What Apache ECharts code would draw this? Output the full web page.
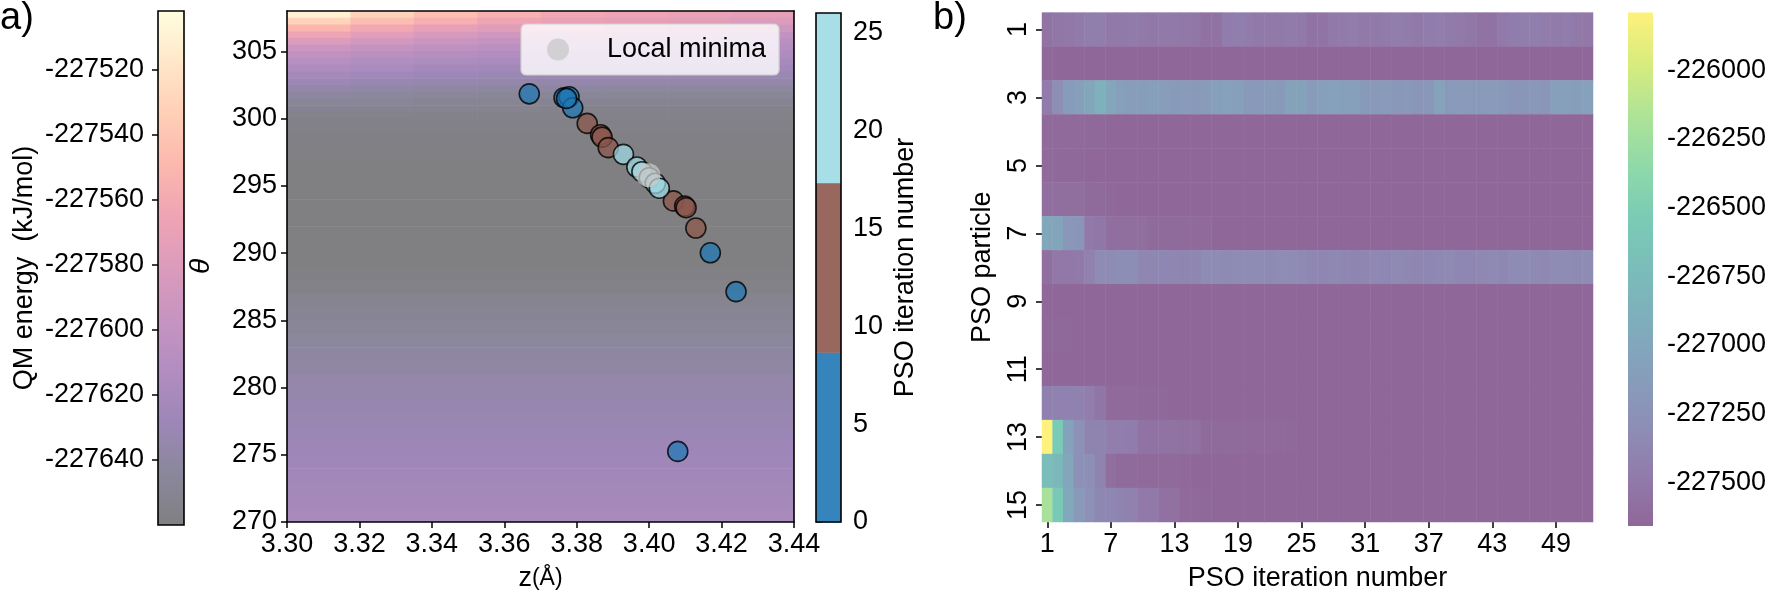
<!DOCTYPE html>
<html><head><meta charset="utf-8">
<script src="https://cdn.jsdelivr.net/npm/echarts@6/dist/echarts.min.js"></script>
<style>html,body{margin:0;padding:0;background:#fff}#c{width:1770px;height:597px}</style>
</head><body><div id="c"></div>
<script>
// ================= DATA =================
// Panel a: PSO particle best positions (z in Å, theta in degrees, iteration number)
const psoZ     = [3.4079, 3.4240, 3.4169, 3.3669, 3.3765, 3.3779, 3.3789, 3.3772,
                  3.3829, 3.3866, 3.3870, 3.3887, 3.4067, 3.4098, 3.4102, 3.4129,
                  3.3929, 3.3966, 3.3980, 3.4000, 3.4017, 3.4028];
const psoTheta = [275.25, 287.13, 290.02, 301.84, 301.55, 301.62, 300.80, 301.50,
                  299.64, 298.80, 298.62, 297.84, 293.88, 293.49, 293.37, 291.86,
                  297.34, 296.40, 296.05, 295.60, 295.19, 294.82];
const psoIter  = [0, 1, 2, 3, 4, 5, 6, 7,
                  9, 10, 11, 12, 13, 14, 15, 16,
                  18, 19, 20, 21, 22, 23];
const localMinZ = [3.3998];
const localMinTheta = [295.79];

// Panel a background: QM energy surface (kJ/mol); row edges in theta, each row split evenly in z
const bgRowEdges = [308,307.5,307,306.5,306,305.5,305,304.5,304,303.5,303,302.5,302,301.5,301,300.5,300,
  299,298,297,296,295,294,293,292,291,290,289,288,287,286,285,284,283,282,281,280,279,278,277,276,275,274,273,272,271,270];
const bgRowEnergy = [
  [-227510,-227530,-227545,-227555,-227562,-227566,-227569,-227572],
  [-227530,-227545,-227556,-227565,-227570,-227573,-227576,-227580],
  [-227550,-227562,-227572,-227578,-227582,-227585,-227588,-227591],
  [-227565,-227575,-227584,-227589,-227592,-227594,-227597,-227600],
  [-227580,-227587,-227594,-227598,-227601,-227603,-227605,-227606],
  [-227593,-227598,-227603,-227606,-227607,-227609,-227610,-227610],
  [-227601,-227606,-227610,-227613,-227614,-227614,-227616,-227616],
  [-227609,-227613,-227616,-227619,-227619,-227620,-227620,-227620],
  [-227615,-227619,-227622,-227624,-227624,-227625,-227625,-227625],
  [-227622,-227625,-227628,-227630,-227630,-227631,-227631,-227631],
  [-227629,-227632,-227634,-227635,-227635,-227636,-227636,-227636],
  [-227636,-227638,-227639,-227641,-227641,-227642,-227642,-227642],
  [-227641,-227643,-227644,-227646,-227646,-227647,-227647,-227647],
  [-227646,-227647,-227649,-227649,-227650,-227650,-227650,-227650],
  [-227650,-227650,-227652,-227652,-227654,-227654,-227654,-227654],
  [-227654,-227654,-227655,-227655,-227655,-227655,-227655,-227655],
  [-227657],[-227658],[-227659],[-227660],[-227660],[-227660],[-227660],[-227660],[-227660],[-227660],
  [-227660],[-227659],[-227656],[-227652],[-227649],[-227646],[-227643],[-227641],[-227639],[-227636],
  [-227635],[-227633],[-227632],[-227630],[-227628],[-227627],[-227625],[-227624],[-227622],[-227620]
];
const thetaTickValues = [270, 275, 280, 285, 290, 295, 300, 305];
const qmTickValues = [-227640, -227620, -227600, -227580, -227560, -227540, -227520];
const iterTickValues = [0, 5, 10, 15, 20, 25];
const iterBinEdges = [0, 8.667, 17.333, 26];

// Panel b: QM energy per PSO particle (rows) and iteration (columns)
const iterationCats = [1,2,3,4,5,6,7,8,9,10,11,12,13,14,15,16,17,18,19,20,21,22,23,24,25,26,
  27,28,29,30,31,32,33,34,35,36,37,38,39,40,41,42,43,44,45,46,47,48,49,50,51,52];
const particleCats = [1,2,3,4,5,6,7,8,9,10,11,12,13,14,15];
const heatTickValues = [-227500, -227250, -227000, -226750, -226500, -226250, -226000];

const p01 = [-227560,-227520,-227510,-227480,-227440,-227450,-227490,-227500,-227480,-227500,-227510,-227490,-227500,
  -227510,-227520,-227570,-227560,-227460,-227440,-227470,-227500,-227490,-227500,-227480,-227490,-227550,
  -227540,-227490,-227480,-227470,-227490,-227500,-227480,-227450,-227470,-227490,-227460,-227450,-227480,
  -227500,-227520,-227560,-227550,-227490,-227460,-227450,-227440,-227470,-227480,-227460,-227500,-227510];
const p02 = [-227645,-227648,-227650,-227652,-227650,-227648,-227650,-227652,-227654,-227650,-227648,-227656,-227655,
  -227652,-227650,-227648,-227650,-227652,-227654,-227650,-227652,-227650,-227648,-227650,-227652,-227654,
  -227650,-227652,-227650,-227648,-227650,-227652,-227654,-227652,-227650,-227648,-227650,-227652,-227650,
  -227654,-227652,-227650,-227648,-227650,-227652,-227654,-227650,-227652,-227650,-227648,-227650,-227652];
const p03 = [-227480,-227300,-227130,-227100,-227000,-226880,-227000,-227100,-227120,-227110,-227090,-227120,-227160,
  -227150,-227170,-227150,-227090,-227080,-227100,-227160,-227170,-227150,-227160,-227060,-227050,-227140,
  -227090,-227080,-227100,-227090,-227160,-227170,-227150,-227180,-227170,-227200,-227190,-227050,-227160,
  -227150,-227170,-227160,-227150,-227170,-227200,-227210,-227190,-227200,-227100,-227090,-227110,-227080];
const p04 = [-227630,-227632,-227634,-227636,-227640,-227642,-227652,-227654,-227655,-227655,-227655,-227655,-227655,
  -227655,-227655,-227655,-227655,-227655,-227655,-227655,-227655,-227655,-227655,-227655,-227655,-227655,
  -227655,-227655,-227655,-227655,-227655,-227655,-227655,-227655,-227655,-227655,-227655,-227655,-227655,
  -227655,-227655,-227655,-227655,-227655,-227655,-227655,-227655,-227655,-227655,-227655,-227655,-227655];
const p05 = [-227636,-227638,-227640,-227642,-227648,-227650,-227655,-227655,-227655,-227655,-227655,-227655,-227655,
  -227655,-227655,-227655,-227655,-227655,-227655,-227655,-227655,-227655,-227655,-227655,-227655,-227655,
  -227655,-227655,-227655,-227655,-227655,-227655,-227655,-227655,-227655,-227655,-227655,-227655,-227655,
  -227655,-227655,-227655,-227655,-227655,-227655,-227655,-227655,-227655,-227655,-227655,-227655,-227655];
const p06 = [-227585,-227585,-227590,-227590,-227620,-227620,-227645,-227650,-227652,-227655,-227655,-227655,-227655,
  -227655,-227655,-227655,-227655,-227655,-227655,-227655,-227655,-227655,-227655,-227655,-227655,-227655,
  -227655,-227655,-227655,-227655,-227655,-227655,-227655,-227655,-227655,-227655,-227655,-227655,-227655,
  -227655,-227655,-227655,-227655,-227655,-227655,-227655,-227655,-227655,-227655,-227655,-227655,-227655];
const p07 = [-227000,-227020,-227180,-227200,-227500,-227520,-227585,-227585,-227590,-227590,-227620,-227620,-227625,
  -227625,-227630,-227630,-227650,-227652,-227654,-227655,-227655,-227655,-227655,-227655,-227655,-227655,
  -227655,-227655,-227655,-227655,-227655,-227655,-227655,-227655,-227655,-227655,-227655,-227655,-227655,
  -227655,-227655,-227655,-227655,-227655,-227655,-227655,-227655,-227655,-227655,-227655,-227655,-227655];
const p08 = [-227585,-227510,-227510,-227500,-227420,-227320,-227330,-227300,-227300,-227370,-227370,-227360,-227370,
  -227380,-227370,-227330,-227320,-227340,-227330,-227320,-227330,-227340,-227320,-227330,-227340,-227360,
  -227370,-227350,-227360,-227380,-227370,-227350,-227360,-227340,-227350,-227370,-227360,-227350,-227340,
  -227360,-227370,-227350,-227340,-227360,-227330,-227320,-227340,-227350,-227330,-227320,-227340,-227330];
const p09 = [-227650,-227652,-227654,-227655,-227655,-227655,-227655,-227655,-227655,-227655,-227655,-227655,-227655,
  -227655,-227655,-227655,-227655,-227655,-227655,-227655,-227655,-227655,-227655,-227655,-227655,-227655,
  -227655,-227655,-227655,-227655,-227655,-227655,-227655,-227655,-227655,-227655,-227655,-227655,-227655,
  -227655,-227655,-227655,-227655,-227655,-227655,-227655,-227655,-227655,-227655,-227655,-227655,-227655];
const p10 = [-227645,-227645,-227646,-227648,-227650,-227655,-227655,-227655,-227655,-227655,-227655,-227655,-227655,
  -227655,-227655,-227655,-227655,-227655,-227655,-227655,-227655,-227655,-227655,-227655,-227655,-227655,
  -227655,-227655,-227655,-227655,-227655,-227655,-227655,-227655,-227655,-227655,-227655,-227655,-227655,
  -227655,-227655,-227655,-227655,-227655,-227655,-227655,-227655,-227655,-227655,-227655,-227655,-227655];
const p11 = [-227652,-227654,-227655,-227655,-227655,-227655,-227655,-227655,-227655,-227655,-227655,-227655,-227655,
  -227655,-227655,-227655,-227655,-227655,-227655,-227655,-227655,-227655,-227655,-227655,-227655,-227655,
  -227655,-227655,-227655,-227655,-227655,-227655,-227655,-227655,-227655,-227655,-227655,-227655,-227655,
  -227655,-227655,-227655,-227655,-227655,-227655,-227655,-227655,-227655,-227655,-227655,-227655,-227655];
const p12 = [-227430,-227410,-227410,-227410,-227450,-227530,-227630,-227630,-227635,-227640,-227640,-227645,-227655,
  -227655,-227655,-227655,-227655,-227655,-227655,-227655,-227655,-227655,-227655,-227655,-227655,-227655,
  -227655,-227655,-227655,-227655,-227655,-227655,-227655,-227655,-227655,-227655,-227655,-227655,-227655,
  -227655,-227655,-227655,-227655,-227655,-227655,-227655,-227655,-227655,-227655,-227655,-227655,-227655];
const p13 = [-225790,-226540,-227060,-227280,-227400,-227400,-227450,-227450,-227460,-227550,-227550,-227560,-227560,
  -227570,-227570,-227620,-227620,-227625,-227625,-227630,-227630,-227635,-227635,-227640,-227655,-227655,
  -227655,-227655,-227655,-227655,-227655,-227655,-227655,-227655,-227655,-227655,-227655,-227655,-227655,
  -227655,-227655,-227655,-227655,-227655,-227655,-227655,-227655,-227655,-227655,-227655,-227655,-227655];
const p14 = [-226720,-226800,-227000,-227280,-227290,-227400,-227590,-227625,-227625,-227630,-227630,-227635,-227635,
  -227640,-227655,-227655,-227655,-227655,-227655,-227655,-227655,-227655,-227655,-227655,-227655,-227655,
  -227655,-227655,-227655,-227655,-227655,-227655,-227655,-227655,-227655,-227655,-227655,-227655,-227655,
  -227655,-227655,-227655,-227655,-227655,-227655,-227655,-227655,-227655,-227655,-227655,-227655,-227655];
const p15 = [-226200,-226570,-226980,-227170,-227280,-227360,-227360,-227400,-227420,-227500,-227500,-227570,-227575,
  -227630,-227635,-227640,-227650,-227655,-227655,-227655,-227655,-227655,-227655,-227655,-227655,-227655,
  -227655,-227655,-227655,-227655,-227655,-227655,-227655,-227655,-227655,-227655,-227655,-227655,-227655,
  -227655,-227655,-227655,-227655,-227655,-227655,-227655,-227655,-227655,-227655,-227655,-227655,-227655];
const particleRows = [p01,p02,p03,p04,p05,p06,p07,p08,p09,p10,p11,p12,p13,p14,p15];

// ================= STYLE =================
const FF = '"Liberation Sans", Arial, Helvetica, sans-serif';
const FS = 27;
// magma (alpha 0.5 over white) and viridis (alpha 0.6 over white)
const magmaA = ['#808082','#8a879b','#9d87b8','#b28dc0','#c694c0','#db9bbc','#efa4b4','#fbb8ae','#ffcfb6','#ffe7c9','#fefedf'];
const viridisA = ['#8f6798','#917cac','#8d8fb7','#869fbb','#7faebb','#7abdba','#7acbb5','#8fd9a9','#afe397','#d7ec7d','#fef17c'];
const iterColors = ['rgba(31,119,180,0.9)','rgba(140,86,75,0.9)','rgba(158,218,229,0.9)'];
const iterColorsSolid = ['#3585bc','#98675d','#a8dee8'];

const qmMin = -227660, qmMax = -227502;
const heatMin = -227660, heatMax = -225790;

// ================= BUILD =================
const bgData = [];
for (let r = 0; r < bgRowEnergy.length; r++) {
  const row = bgRowEnergy[r];
  const n = row.length;
  for (let c = 0; c < n; c++) {
    const z0 = 3.30 + (3.44 - 3.30) * c / n;
    const z1 = 3.30 + (3.44 - 3.30) * (c + 1) / n;
    bgData.push([z0, z1, bgRowEdges[r + 1], bgRowEdges[r], row[c]]);
  }
}
const psoData = psoZ.map((z, i) => [z, psoTheta[i], psoIter[i]]);
const minData = localMinZ.map((z, i) => [z, localMinTheta[i]]);
const heatData = [];
particleRows.forEach((row, r) => row.forEach((v, c) => heatData.push([c, r, v])));
const iterBins = [];
for (let i = 0; i < iterBinEdges.length - 1; i++) iterBins.push([0, 1, iterBinEdges[i], iterBinEdges[i + 1], i]);

function stops(list) { return list.map((c, i) => ({offset: i / (list.length - 1), color: c})); }

function renderCell(params, api) {
  const p0 = api.coord([api.value(0), api.value(3)]);
  const p1 = api.coord([api.value(1), api.value(2)]);
  return {type: 'rect', shape: {x: p0[0], y: p0[1], width: p1[0] - p0[0] + 0.6, height: p1[1] - p0[1] + 0.6},
    style: {fill: api.visual('color')}};
}
function gradientBar(list, stroke) {
  return function (params, api) {
    const p0 = api.coord([api.value(0), api.value(3)]);
    const p1 = api.coord([api.value(1), api.value(2)]);
    return {type: 'rect', shape: {x: p0[0], y: p0[1], width: p1[0] - p0[0], height: p1[1] - p0[1]},
      style: {fill: new echarts.graphic.LinearGradient(0, 1, 0, 0, stops(list)),
              stroke: stroke ? '#000' : null, lineWidth: stroke ? 1.6 : 0}};
  };
}
function renderBin(params, api) {
  const p0 = api.coord([api.value(0), api.value(3)]);
  const p1 = api.coord([api.value(1), api.value(2)]);
  return {type: 'rect', shape: {x: p0[0], y: p0[1], width: p1[0] - p0[0], height: p1[1] - p0[1] + 0.5},
    style: {fill: iterColorsSolid[api.value(4)]}};
}
function renderFrame(params, api) {
  const p0 = api.coord([api.value(0), api.value(3)]);
  const p1 = api.coord([api.value(1), api.value(2)]);
  return {type: 'rect', shape: {x: p0[0], y: p0[1], width: p1[0] - p0[0], height: p1[1] - p0[1]},
    style: {fill: null, stroke: '#000', lineWidth: 1.6}, z2: 10};
}

const lbl = {color: '#000', fontFamily: FF, fontSize: FS};
const plain = v => String(v);
const tick = {show: true, length: 6, lineStyle: {color: '#000', width: 1.5}};
const line = {show: true, lineStyle: {color: '#000', width: 1.6}};
const nameStyle = {fontFamily: FF, fontSize: FS, color: '#000'};

const option = {
  backgroundColor: '#fff',
  animation: false,
  title: [
    {text: 'a)', left: 0, top: 0, padding: 0, textStyle: {fontFamily: FF, fontSize: 38, fontWeight: 'normal', color: '#000'}},
    {text: 'b)', left: 933, top: 0, padding: 0, textStyle: {fontFamily: FF, fontSize: 38, fontWeight: 'normal', color: '#000'}}
  ],
  grid: [
    {left: 287, top: 11, width: 507, height: 513},
    {left: 158, top: 11, width: 26, height: 514},
    {left: 816, top: 13, width: 25, height: 509},
    {left: 1042, top: 12.6, width: 551, height: 513.4},
    {left: 1628, top: 12.6, width: 25, height: 513.4}
  ],
  xAxis: [
    {gridIndex: 0, type: 'value', min: 3.30, max: 3.44, interval: 0.02, z: 10,
     axisLine: {...line, onZero: false}, axisTick: tick, splitLine: {show: false},
     axisLabel: {...lbl, margin: 9, formatter: v => v.toFixed(2)},
     name: '{a|z}{b|(Å)}', nameLocation: 'middle', nameGap: 43,
     nameTextStyle: {rich: {a: {fontFamily: FF, fontSize: 27, color: '#000'}, b: {fontFamily: FF, fontSize: 23, color: '#000'}}}},
    {gridIndex: 0, type: 'value', min: 3.30, max: 3.44, position: 'top', z: 10,
     axisLine: {...line, onZero: false}, axisTick: {show: false}, axisLabel: {show: false}, splitLine: {show: false}},
    {gridIndex: 1, type: 'value', min: 0, max: 1, show: false},
    {gridIndex: 2, type: 'value', min: 0, max: 1, show: false},
    {gridIndex: 3, type: 'category', data: iterationCats, position: 'bottom',
     axisLine: {show: false}, axisTick: {...tick, alignWithLabel: true, interval: 5}, splitLine: {show: false},
     axisLabel: {...lbl, interval: 5, margin: 9},
     name: 'PSO iteration number', nameLocation: 'middle', nameGap: 43, nameTextStyle: nameStyle},
    {gridIndex: 4, type: 'value', min: 0, max: 1, show: false}
  ],
  yAxis: [
    {gridIndex: 0, type: 'value', min: 270, max: 308, z: 10,
     axisLine: {...line, onZero: false}, axisTick: {...tick, customValues: thetaTickValues}, splitLine: {show: false},
     axisLabel: {...lbl, margin: 10, customValues: thetaTickValues, formatter: plain},
     name: 'θ', nameLocation: 'middle', nameGap: 72,
     nameTextStyle: {fontFamily: FF, fontSize: 28, fontStyle: 'italic', color: '#000'}},
    {gridIndex: 0, type: 'value', min: 270, max: 308, position: 'right', z: 10,
     axisLine: {...line, onZero: false}, axisTick: {show: false}, axisLabel: {show: false}, splitLine: {show: false}},
    {gridIndex: 1, type: 'value', min: qmMin, max: qmMax, position: 'left',
     axisLine: {show: false}, axisTick: {...tick, customValues: qmTickValues}, splitLine: {show: false},
     axisLabel: {...lbl, margin: 14, customValues: qmTickValues, formatter: plain},
     name: 'QM energy  (kJ/mol)', nameLocation: 'middle', nameGap: 120, nameTextStyle: nameStyle},
    {gridIndex: 2, type: 'value', min: 0, max: 26, position: 'right',
     axisLine: {show: false}, axisTick: {...tick, customValues: iterTickValues}, splitLine: {show: false},
     axisLabel: {...lbl, margin: 12, customValues: iterTickValues, formatter: plain},
     name: 'PSO iteration number', nameLocation: 'middle', nameGap: 51, nameTextStyle: nameStyle},
    {gridIndex: 3, type: 'category', data: particleCats, inverse: true,
     axisLine: {show: false}, axisTick: {...tick, alignWithLabel: true, interval: 1}, splitLine: {show: false},
     axisLabel: {...lbl, interval: 1, rotate: 90, margin: 10},
     name: 'PSO particle', nameLocation: 'middle', nameGap: 46, nameTextStyle: nameStyle},
    {gridIndex: 4, type: 'value', min: heatMin, max: heatMax, position: 'right',
     axisLine: {show: false}, axisTick: {...tick, customValues: heatTickValues}, splitLine: {show: false},
     axisLabel: {...lbl, margin: 14, customValues: heatTickValues, formatter: plain}}
  ],
  legend: {
    data: ['Local minima'], left: 521, top: 24, orient: 'vertical',
    padding: [12, 13, 12, 26], itemWidth: 22, itemHeight: 22, icon: 'circle',
    backgroundColor: 'rgba(255,255,255,0.8)', borderColor: '#d0d0d0', borderWidth: 1.2, borderRadius: 5,
    formatter: name => '{s|}{t|' + name + '}',
    textStyle: {fontFamily: FF, fontSize: FS, color: '#000',
      rich: {s: {width: 33}, t: {fontFamily: FF, fontSize: FS, color: '#000'}}}
  },
  visualMap: [
    {type: 'continuous', show: false, seriesIndex: 0, dimension: 4, min: qmMin, max: qmMax, inRange: {color: magmaA}},
    {type: 'piecewise', show: false, seriesIndex: 1, dimension: 2,
     pieces: [{gte: iterBinEdges[0], lt: iterBinEdges[1], color: iterColors[0]},
              {gte: iterBinEdges[1], lt: iterBinEdges[2], color: iterColors[1]},
              {gte: iterBinEdges[2], lte: iterBinEdges[3], color: iterColors[2]}]},
    {type: 'continuous', show: false, seriesIndex: 5, dimension: 2, min: heatMin, max: heatMax, inRange: {color: viridisA}}
  ],
  series: [
    {type: 'custom', name: 'energy', xAxisIndex: 0, yAxisIndex: 0, renderItem: renderCell, data: bgData, clip: true, z: 1, silent: true},
    {type: 'scatter', name: 'PSO', xAxisIndex: 0, yAxisIndex: 0, data: psoData, symbolSize: 20, z: 3,
     itemStyle: {borderColor: '#000', borderWidth: 1.6}},
    {type: 'scatter', name: 'Local minima', xAxisIndex: 0, yAxisIndex: 0, data: minData, symbolSize: 24, z: 4,
     itemStyle: {color: 'rgba(200,200,200,0.95)'}},
    {type: 'custom', xAxisIndex: 2, yAxisIndex: 2, renderItem: gradientBar(magmaA, true), data: [[0, 1, qmMin, qmMax]], silent: true},
    {type: 'custom', xAxisIndex: 3, yAxisIndex: 3, renderItem: renderBin, data: iterBins, silent: true},
    {type: 'heatmap', xAxisIndex: 4, yAxisIndex: 4, data: heatData, silent: true},
    {type: 'custom', xAxisIndex: 5, yAxisIndex: 5, renderItem: gradientBar(viridisA, false), data: [[0, 1, heatMin, heatMax]], silent: true},
    {type: 'custom', xAxisIndex: 3, yAxisIndex: 3, renderItem: renderFrame, data: [[0, 1, 0, 26]], silent: true, z: 5}
  ]
};
const chart = echarts.init(document.getElementById('c'), null, {renderer: 'canvas', width: 1770, height: 597});
chart.setOption(option);
</script>
</body></html>
